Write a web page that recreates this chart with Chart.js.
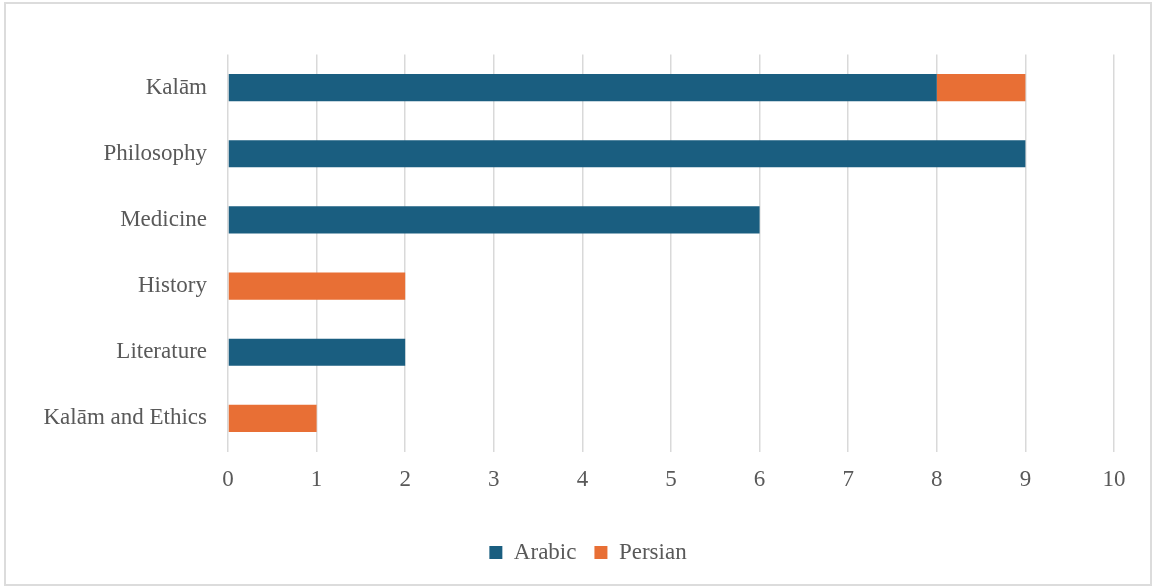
<!DOCTYPE html>
<html>
<head>
<meta charset="utf-8">
<script src="https://cdn.jsdelivr.net/npm/chart.js@4/dist/chart.umd.min.js"></script>
<style>
  html, body { margin: 0; padding: 0; background: #fff; }
  #frame { position: absolute; left: 4px; top: 2px; width: 1144px; height: 580px; border: 2px solid #dcdcdc; }
  #wrap { position: absolute; left: 0; top: 0; width: 1153px; height: 586px; }
</style>
</head>
<body>
<div id="frame"></div>
<div id="wrap"><canvas id="c" width="1153" height="586"></canvas></div>
<script>
const categories = ["Kalām", "Philosophy", "Medicine", "History", "Literature", "Kalām and Ethics"];
const arabic = [8, 9, 6, 0, 2, 0];
const persian = [1, 0, 0, 2, 0, 1];
const xTicks = [0, 1, 2, 3, 4, 5, 6, 7, 8, 9, 10];

const FONT = "'Liberation Serif', 'Times New Roman', serif";
const TEXT = "#595959";

const shiftLegend = {
  id: 'shiftLegend',
  afterLayout(chart) {
    const lg = chart.legend;
    if (lg) { lg.left += 31; lg.right += 31; }
  }
};

new Chart(document.getElementById('c'), {
  type: 'bar',
  data: {
    labels: categories,
    datasets: [
      { label: 'Arabic', data: arabic, backgroundColor: '#1a5e80', barPercentage: 0.41, categoryPercentage: 1.0 },
      { label: 'Persian', data: persian, backgroundColor: '#e86f35', barPercentage: 0.41, categoryPercentage: 1.0 }
    ]
  },
  options: {
    indexAxis: 'y',
    responsive: false,
    animation: false,
    layout: { padding: { top: 54.5, right: 39, bottom: 12, left: 0 } },
    scales: {
      x: {
        stacked: true,
        min: 0, max: 10,
        afterBuildTicks: (s) => { s.ticks = xTicks.map(v => ({ value: v })); },
        afterFit: (s) => { s.height = 71.5; },
        grid: { color: '#d9d9d9', lineWidth: 1.5, drawTicks: false },
        border: { display: false },
        ticks: { color: TEXT, font: { family: FONT, size: 23 }, padding: 15 }
      },
      y: {
        stacked: true,
        afterFit: (s) => { s.width = 228; },
        grid: { display: false, drawTicks: false },
        border: { display: false },
        ticks: { color: TEXT, font: { family: FONT, size: 23 }, padding: 21 }
      }
    },
    plugins: {
      legend: {
        position: 'bottom',
        labels: { color: TEXT, font: { family: FONT, size: 23 }, boxWidth: 13, boxHeight: 13, padding: 18 }
      },
      tooltip: { enabled: false }
    }
  },
  plugins: [shiftLegend]
});
</script>
</body>
</html>
